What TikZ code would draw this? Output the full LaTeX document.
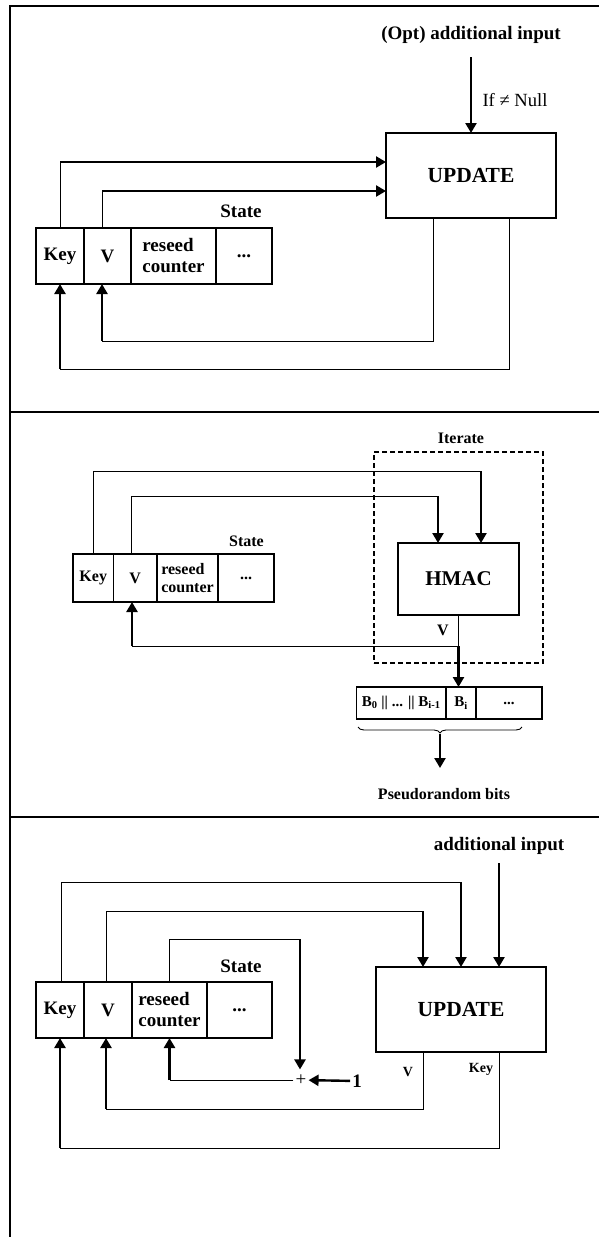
\documentclass[tikz,border=0pt]{standalone}
\usepackage{fontspec}
\setmainfont{Liberation Serif}
\usetikzlibrary{arrows.meta,positioning,decorations.pathreplacing}

\begin{document}
\begin{tikzpicture}
[x=1pt,y=-1pt,>={Triangle[length=10pt,width=11pt]},
  frame/.style={line width=2pt},
  wire/.style={line width=0.9pt},
  arr/.style={->,line width=2.4pt},
  big/.style={font=\fontsize{19}{21}\selectfont\bfseries},
  small/.style={font=\fontsize{16}{18}\selectfont\bfseries},
  cell/.style={draw,line width=1.1pt,inner sep=0pt,outer sep=0pt,align=left},
  box/.style={draw,line width=1.1pt,inner sep=0pt,outer sep=0pt,minimum width=170pt,minimum height=85pt,font=\fontsize{21.5}{24}\selectfont\bfseries}]
  \useasboundingbox (0,0) rectangle (599,1237);
  \draw[frame] (10,1237) -- (10,6) -- (599,6);
  \draw[frame] (10,412) -- (599,412);
  \draw[frame] (10,817) -- (599,817);

  % update after reseed
  \node[big] (p1in) at (471,35) {(Opt) additional input};
  \node[box] (p1upd) at (471,175.5) {UPDATE};
  \coordinate (p1inc) at (471,57);
  \draw[arr] (p1inc) -- (p1upd.north);
  \node[font=\fontsize{18.6}{20}\selectfont] (p1if) at (515,100) {If ≠ Null};
  \node[big] (p1state) at (241,211) {State};
  \node[cell,big,minimum width=48pt,minimum height=56pt] (p1key) at (60,256) {Key};
  \node[cell,big,minimum width=47pt,minimum height=56pt,right=0pt of p1key] (p1v) {V};
  \node[cell,big,minimum width=85pt,minimum height=56pt,right=0pt of p1v] (p1rc) {reseed\\counter};
  \node[cell,big,minimum width=56pt,minimum height=56pt,right=0pt of p1rc] (p1dots) {...};
  \coordinate (p1kc) at (60,162);
  \coordinate (p1vc) at (102,191);
  \coordinate (p1vb) at (102,341);
  \coordinate (p1kb) at (60,369);
  \draw[wire] (p1key.north) -- (p1kc);
  \draw[arr] (p1kc) -- (p1kc -| p1upd.west);
  \draw[wire] ([xshift=-5.5pt]p1v.north) -- (p1vc);
  \draw[arr] (p1vc) -- (p1vc -| p1upd.west);
  \draw[wire] ([xshift=-38pt]p1upd.south) |- (p1vb);
  \draw[arr] (p1vb) -- (p1vb |- p1v.south);
  \draw[wire] ([xshift=38pt]p1upd.south) |- (p1kb);
  \draw[arr] (p1kb) -- (p1key.south);

  % generate
  \node[small] (p2it) at (461,438) {Iterate};
  \node[draw,line width=2pt,dash pattern=on 5pt off 3pt,inner sep=0pt,minimum width=169pt,minimum height=211pt] (p2loop) at (458.5,557.5) {};
  \node[draw,line width=1.1pt,inner sep=0pt,outer sep=0pt,minimum width=121pt,minimum height=72pt,font=\fontsize{21}{24}\selectfont\bfseries] (p2hmac) at (458.5,579) {HMAC};
  \node[small] (p2state) at (246.5,541) {State};
  \node[cell,small,minimum width=40.5pt,minimum height=48pt] (p2key) at (93.25,578) {Key};
  \node[cell,small,minimum width=43.5pt,minimum height=48pt,right=0pt of p2key] (p2v) {V};
  \node[cell,small,minimum width=61pt,minimum height=48pt,right=0pt of p2v] (p2rc) {reseed\\counter};
  \node[cell,small,minimum width=56pt,minimum height=48pt,right=0pt of p2rc] (p2dots) {...};
  \coordinate (p2kc) at (481,471);
  \coordinate (p2vc) at (438,496);
  \coordinate (p2out) at (458.5,646);
  \coordinate (p2vb) at (132,646);
  \draw[wire] (p2key.north) |- (p2kc);
  \draw[arr] (p2kc) -- (p2kc |- p2hmac.north);
  \draw[wire] ([xshift=-4pt]p2v.north) |- (p2vc);
  \draw[arr] (p2vc) -- (p2vc |- p2hmac.north);
  \draw[wire] (p2hmac.south) -- (p2out) -- (p2vb);
  \draw[arr] (p2vb) -- (p2vb |- p2v.south);
  \node[small] (p2vlab) at (443,630) {V};
  \node[cell,font=\fontsize{15}{15}\selectfont\bfseries,minimum width=89.5pt,minimum height=32pt] (p2b1) at (401.25,703) {B\textsubscript{0} || ... || B\textsubscript{i-1}};
  \node[cell,font=\fontsize{15}{15}\selectfont\bfseries,minimum width=30pt,minimum height=32pt,right=0pt of p2b1] (p2b2) {B\textsubscript{i}};
  \node[cell,font=\fontsize{15}{15}\selectfont\bfseries,minimum width=66pt,minimum height=32pt,right=0pt of p2b2] (p2b3) {...};
  \draw[arr] (p2out) -- (p2out |- p2b1.north);
  \draw[wire,decorate,decoration={brace,amplitude=6pt,mirror}] (358,727) -- (522,727);
  \coordinate (p2tip) at (440,734);
  \coordinate (p2end) at (440,768);
  \draw[arr] (p2tip) -- (p2end);
  \node[small] (p2prb) at (444,794) {Pseudorandom bits};

  % update with additional input
  \node[big] (p3in) at (499,846) {additional input};
  \node[box] (p3upd) at (461,1009.5) {UPDATE};
  \coordinate (p3inc) at (499,863);
  \draw[arr] (p3inc) -- (p3inc |- p3upd.north);
  \node[big] (p3state) at (241,966) {State};
  \node[cell,big,minimum width=48pt,minimum height=56pt] (p3key) at (60,1010) {Key};
  \node[cell,big,minimum width=48pt,minimum height=56pt,right=0pt of p3key] (p3v) {V};
  \node[cell,big,minimum width=75pt,minimum height=56pt,right=0pt of p3v] (p3rc) {reseed\\counter};
  \node[cell,big,minimum width=65pt,minimum height=56pt,right=0pt of p3rc] (p3dots) {...};
  \node[font=\fontsize{19}{19}\selectfont,inner sep=2pt] (p3plus) at (301,1080) {+};
  \node[font=\fontsize{19}{19}\selectfont\bfseries,inner sep=2pt] (p3one) at (357,1081) {1};
  \coordinate (p3kc) at (461,882);
  \coordinate (p3vc) at (423,911);
  \coordinate (p3rcc) at (300,939);
  \coordinate (p3rcb) at (p3rc.south |- p3plus.west);
  \coordinate (p3vb) at (106,1109);
  \coordinate (p3kb) at (60,1148);
  \draw[wire] ([xshift=1pt]p3key.north) |- (p3kc);
  \draw[arr] (p3kc) -- (p3kc |- p3upd.north);
  \draw[wire] ([xshift=-2pt]p3v.north) |- (p3vc);
  \draw[arr] (p3vc) -- (p3vc |- p3upd.north);
  \draw[wire] (p3rc.north) |- (p3rcc);
  \draw[arr,shorten >=3pt] (p3rcc) -- (p3rcc |- p3plus.north);
  \draw[arr] (p3one) -- (p3plus);
  \draw[wire] (p3plus.west) -- (p3rcb);
  \draw[arr] (p3rcb) -- (p3rc.south);
  \draw[wire] ([xshift=-38pt]p3upd.south) |- (p3vb);
  \draw[arr] (p3vb) -- (p3vb |- p3v.south);
  \draw[wire] ([xshift=38pt]p3upd.south) |- (p3kb);
  \draw[arr] (p3kb) -- (p3key.south);
  \node[font=\fontsize{14}{14}\selectfont\bfseries] (p3vlab) at (408,1072) {V};
  \node[font=\fontsize{14}{14}\selectfont\bfseries] (p3klab) at (481,1069) {Key};
\end{tikzpicture}
\end{document}
